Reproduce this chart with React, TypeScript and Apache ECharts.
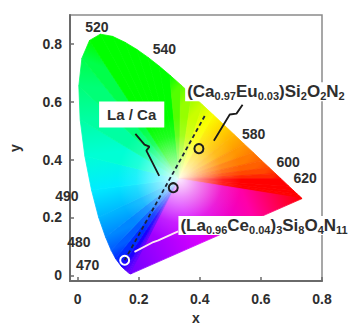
import React, { useEffect, useRef } from 'react';
import * as echarts from 'echarts';

// CIE 1931 spectral locus (chromaticity x, y) by wavelength (nm)
const locusWavelengths = [380, 390, 400, 410, 420, 430, 440, 450, 460, 470, 475, 480, 485, 490, 495, 500, 505, 510, 515, 520, 525, 530, 535, 540, 545, 550, 555, 560, 565, 570, 575, 580, 585, 590, 595, 600, 605, 610, 620, 630, 640, 650, 660, 680, 700];
const locusX = [0.1741, 0.1738, 0.1733, 0.1726, 0.1714, 0.1689, 0.1644, 0.1566, 0.1440, 0.1241, 0.1096, 0.0913, 0.0687, 0.0454, 0.0235, 0.0082, 0.0039, 0.0139, 0.0389, 0.0743, 0.1142, 0.1547, 0.1929, 0.2296, 0.2658, 0.3016, 0.3373, 0.3731, 0.4087, 0.4441, 0.4788, 0.5125, 0.5448, 0.5752, 0.6029, 0.6270, 0.6482, 0.6658, 0.6915, 0.7079, 0.7190, 0.7260, 0.7300, 0.7334, 0.7347];
const locusY = [0.0050, 0.0049, 0.0048, 0.0048, 0.0051, 0.0069, 0.0109, 0.0177, 0.0297, 0.0578, 0.0868, 0.1327, 0.2007, 0.2950, 0.4127, 0.5384, 0.6548, 0.7502, 0.8120, 0.8338, 0.8262, 0.8059, 0.7816, 0.7543, 0.7243, 0.6923, 0.6589, 0.6245, 0.5896, 0.5547, 0.5202, 0.4866, 0.4544, 0.4242, 0.3965, 0.3725, 0.3514, 0.3340, 0.3083, 0.2920, 0.2809, 0.2740, 0.2700, 0.2666, 0.2653];
const whitePoint = [0.3333, 0.3333];

// Wavelength annotations
const wavelengthLabels = ['520', '540', '580', '600', '620', '490', '480', '470'];
const wavelengthLabelX = [0.063, 0.284, 0.576, 0.689, 0.745, -0.035, 0.004, 0.033];
const wavelengthLabelY = [0.859, 0.782, 0.489, 0.391, 0.337, 0.273, 0.115, 0.037];

// Phosphor chromaticity points
const pointX = [0.154, 0.313, 0.397];
const pointY = [0.052, 0.303, 0.438];

// Tie line between blue and yellow phosphors
const tieLineX = [0.154, 0.417];
const tieLineY = [0.052, 0.553];

// Leader lines
const laCaLeaderX = [0.189, 0.219, 0.235, 0.225, 0.267];
const laCaLeaderY = [0.489, 0.452, 0.445, 0.431, 0.344];
const caLeaderX = [0.540, 0.520, 0.498, 0.446];
const caLeaderY = [0.590, 0.559, 0.556, 0.465];
const laLeaderX = [0.186, 0.248, 0.264, 0.329];
const laLeaderY = [0.081, 0.115, 0.121, 0.152];

// Text annotations
const laCaLabel = { text: 'La / Ca', x: 0.177, y: 0.556 };
const caLabel = { text: '(Ca{s|0.97}Eu{s|0.03})Si{s|2}O{s|2}N{s|2}', x: 0.352, y: 0.635 };
const laLabel = { text: '(La{s|0.96}Ce{s|0.04}){s|3}Si{s|8}O{s|4}N{s|11}', x: 0.330, y: 0.172 };

const tickValues = [0, 0.2, 0.4, 0.6, 0.8];

function xyToRgb(x: number, y: number): string {
  const X = x / y;
  const Y = 1;
  const Z = (1 - x - y) / y;
  let r = 3.2406 * X - 1.5372 * Y - 0.4986 * Z;
  let g = -0.9689 * X + 1.8758 * Y + 0.0415 * Z;
  let b = 0.0557 * X - 0.204 * Y + 1.057 * Z;
  r = Math.max(r, 0);
  g = Math.max(g, 0);
  b = Math.max(b, 0);
  const m = Math.max(r, g, b) || 1;
  const gam = (v: number) => {
    v = v / m;
    const c = v <= 0.0031308 ? 12.92 * v : 1.055 * Math.pow(v, 1 / 2.4) - 0.055;
    return Math.round(255 * Math.min(1, Math.max(0, c)));
  };
  return `rgb(${gam(r)},${gam(g)},${gam(b)})`;
}

const FONT = '"Liberation Sans", Arial, sans-serif';
const TEXT = '#2e2e2e';

export default function App() {
  const ref = useRef<HTMLDivElement>(null);

  useEffect(() => {
    document.body.style.margin = '0';
    if (!ref.current) return;
    const chart = echarts.init(ref.current, undefined, { renderer: 'svg' });
    const edgeColors = locusX.map((x, i) => xyToRgb(x, locusY[i]));
    const n = locusX.length;

    const axisCommon = {
      type: 'value',
      nameLocation: 'middle',
      nameTextStyle: { fontFamily: FONT, fontWeight: 'bold', fontSize: 14, color: TEXT },
      splitLine: { show: false },
      axisLine: { show: true, onZero: false, lineStyle: { color: '#6a6a6a', width: 2 } },
      axisTick: { show: true, inside: true, length: 4, customValues: tickValues, lineStyle: { color: '#6a6a6a', width: 1.5 } },
    };
    const labelCommon = {
      customValues: tickValues,
      fontFamily: FONT,
      fontWeight: 'bold',
      fontSize: 14,
      color: TEXT,
      formatter: (v: number) => (v === 0 ? '0' : v.toFixed(1)),
    };

    const option: any = {
      animation: false,
      backgroundColor: '#ffffff',
      grid: {
        left: 68,
        top: 15,
        width: 254,
        height: 273,
        show: true,
        borderColor: '#8a8a8a',
        borderWidth: 1.5,
        backgroundColor: 'transparent',
      },
      xAxis: {
        ...axisCommon,
        min: -0.025,
        max: 0.8,
        name: 'x',
        nameGap: 27,
        axisLabel: { ...labelCommon, margin: 11 },
      },
      yAxis: {
        ...axisCommon,
        min: -0.02,
        max: 0.9,
        name: 'y',
        nameGap: 48,
        axisLabel: { ...labelCommon, margin: 8 },
      },
      series: [
        {
          type: 'custom',
          name: 'locus',
          z: 1,
          silent: true,
          data: locusX.map((x, i) => [x, locusY[i], locusWavelengths[i]]),
          encode: { x: 0, y: 1 },
          renderItem: (params: any, api: any) => {
            const i = params.dataIndex;
            const j = (i + 1) % n;
            const p1 = api.coord([locusX[i], locusY[i]]);
            const p2 = api.coord([locusX[j], locusY[j]]);
            const w = api.coord(whitePoint);
            let fill: any;
            if (j === 0) {
              fill = new echarts.graphic.LinearGradient(
                p2[0], p2[1], p1[0], p1[1],
                [
                  { offset: 0, color: edgeColors[0] },
                  { offset: 0.4, color: '#d400ff' },
                  { offset: 0.72, color: '#ff00a8' },
                  { offset: 1, color: edgeColors[n - 1] },
                ],
                true
              );
            } else {
              fill = new echarts.graphic.LinearGradient(
                p1[0], p1[1], p2[0], p2[1],
                [
                  { offset: 0, color: edgeColors[i] },
                  { offset: 1, color: edgeColors[j] },
                ],
                true
              );
            }
            return {
              type: 'polygon',
              shape: { points: [w, p1, p2] },
              style: { fill, stroke: fill, lineWidth: 0.8 },
              silent: true,
            };
          },
        },
        {
          type: 'custom',
          name: 'white',
          z: 2,
          silent: true,
          data: [[whitePoint[0], whitePoint[1]]],
          encode: { x: 0, y: 1 },
          renderItem: (params: any, api: any) => {
            const pts = locusX.map((x, i) => api.coord([x, locusY[i]]));
            const w = api.coord(whitePoint);
            const fill = new echarts.graphic.RadialGradient(
              w[0], w[1], 62,
              [
                { offset: 0, color: 'rgba(255,255,255,0.92)' },
                { offset: 0.3, color: 'rgba(255,255,255,0.55)' },
                { offset: 0.7, color: 'rgba(255,255,255,0.12)' },
                { offset: 1, color: 'rgba(255,255,255,0)' },
              ],
              true
            );
            return { type: 'polygon', shape: { points: pts }, style: { fill }, silent: true };
          },
        },
        {
          type: 'line',
          name: 'tie',
          z: 4,
          silent: true,
          symbol: 'none',
          data: tieLineX.map((x, i) => [x, tieLineY[i]]),
          lineStyle: { color: '#1b2638', width: 1.8, type: [4, 3] },
        },
        {
          type: 'line',
          name: 'laCaLeader',
          z: 4,
          silent: true,
          symbol: 'none',
          data: laCaLeaderX.map((x, i) => [x, laCaLeaderY[i]]),
          lineStyle: { color: '#1a1a1a', width: 1.8 },
        },
        {
          type: 'line',
          name: 'caLeader',
          z: 4,
          silent: true,
          symbol: 'none',
          data: caLeaderX.map((x, i) => [x, caLeaderY[i]]),
          lineStyle: { color: '#1a1a1a', width: 1.8 },
        },
        {
          type: 'line',
          name: 'laLeader',
          z: 4,
          silent: true,
          symbol: 'none',
          data: laLeaderX.map((x, i) => [x, laLeaderY[i]]),
          lineStyle: { color: '#ffe8f4', width: 1.8 },
        },
        {
          type: 'scatter',
          name: 'points',
          z: 5,
          silent: true,
          symbol: 'circle',
          symbolSize: 9,
          data: pointX.map((x, i) => ({
            value: [x, pointY[i]],
            itemStyle: {
              color: 'rgba(0,0,0,0)',
              borderColor: i === 0 ? '#ffffff' : '#1e1e1e',
              borderWidth: 2,
              opacity: 1,
            },
          })),
        },
        {
          type: 'scatter',
          name: 'wavelengths',
          z: 6,
          silent: true,
          symbolSize: 0,
          clip: false,
          itemStyle: { opacity: 1 },
          data: wavelengthLabelX.map((x, i) => ({ value: [x, wavelengthLabelY[i]], name: wavelengthLabels[i] })),
          label: {
            show: true,
            position: 'inside',
            formatter: (p: any) => p.name,
            fontFamily: FONT,
            fontWeight: 'bold',
            fontSize: 14,
            color: TEXT,
          },
        },
        {
          type: 'scatter',
          name: 'annotations',
          z: 7,
          silent: true,
          symbolSize: 0,
          clip: false,
          itemStyle: { opacity: 1 },
          data: [
            {
              value: [laCaLabel.x, laCaLabel.y],
              name: laCaLabel.text,
              label: { position: 'inside', backgroundColor: '#ffffff', padding: [4, 8, 3, 8], fontSize: 15 },
            },
            {
              value: [caLabel.x, caLabel.y],
              name: caLabel.text,
              label: { position: 'right', distance: 0, backgroundColor: '#ffffff', padding: [0, 2, 0, 2] },
            },
            {
              value: [laLabel.x, laLabel.y],
              name: laLabel.text,
              label: { position: 'right', distance: 0, backgroundColor: '#ffffff', padding: [0, 2, 0, 2] },
            },
          ],
          label: {
            show: true,
            opacity: 1,
            formatter: (p: any) => p.name,
            fontFamily: FONT,
            fontWeight: 'bold',
            fontSize: 17,
            lineHeight: 19,
            color: TEXT,
            rich: {
              s: {
                fontFamily: FONT,
                fontWeight: 'bold',
                fontSize: 11,
                lineHeight: 10,
                verticalAlign: 'bottom',
                color: TEXT,
              },
            },
          },
        },
      ],
    };

    chart.setOption(option);
    return () => {
      chart.dispose();
    };
  }, []);

  return <div ref={ref} style={{ width: 357, height: 330 }} />;
}
